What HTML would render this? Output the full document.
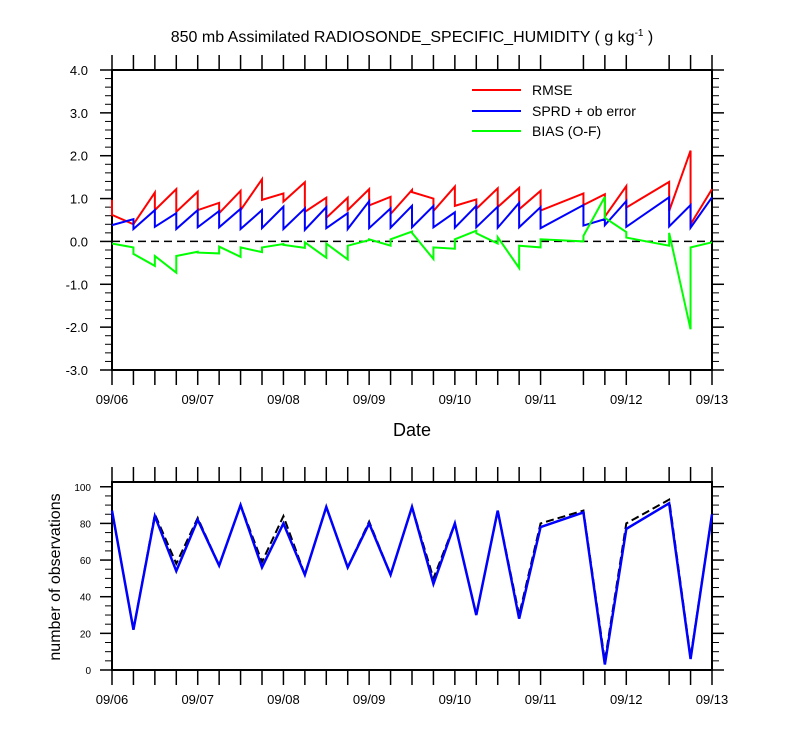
<!DOCTYPE html>
<html><head><meta charset="utf-8"><style>
body{margin:0;background:#fff}
svg text{font-family:"Liberation Sans",sans-serif;fill:#000}
</style></head><body>
<svg id="chart" width="800" height="750" viewBox="0 0 800 750" xmlns="http://www.w3.org/2000/svg">
<text x="412" y="42" font-size="16" text-anchor="middle">850 mb Assimilated RADIOSONDE_SPECIFIC_HUMIDITY ( g kg<tspan dy="-6" font-size="10">-1</tspan><tspan dy="6"> )</tspan></text>
<g id="topPanel"></g>
<g id="botPanel"></g>
<text x="412" y="436" font-size="18" text-anchor="middle">Date</text>
<text transform="translate(60,577) rotate(-90)" font-size="16" text-anchor="middle">number of observations</text>
<g>
<line x1="472" y1="90" x2="521" y2="90" stroke="#f00" stroke-width="2"/>
<text x="532" y="95" font-size="14">RMSE</text>
<line x1="472" y1="111" x2="521" y2="111" stroke="#00f" stroke-width="2"/>
<text x="532" y="116" font-size="14">SPRD + ob error</text>
<line x1="472" y1="131" x2="521" y2="131" stroke="#0f0" stroke-width="2"/>
<text x="532" y="136" font-size="14">BIAS (O-F)</text>
</g>
</svg>
<script>
const times=[0,1,2,3,4,5,6,7,8,9,10,11,12,13,14,15,16,17,18,19,20,21,22,23,24,25,26,27,28];
const dateLabels=["09/06","09/07","09/08","09/09","09/10","09/11","09/12","09/13"];
const yTicksTop=[-3,-2,-1,0,1,2,3,4];
const yTicksBot=[0,20,40,60,80,100];
const rmseA=[0.97,0.40,1.14,1.22,1.16,0.90,1.18,1.45,1.12,1.38,1.02,1.02,1.22,1.04,1.20,1.00,1.28,0.98,1.24,1.25,1.18,null,1.12,1.10,1.29,null,1.39,2.12,1.22];
const rmseB=[0.62,0.40,0.73,0.69,0.73,0.66,0.73,0.97,0.93,0.69,0.55,0.73,0.84,0.64,1.15,0.71,0.83,0.76,0.80,0.75,0.72,null,0.85,0.58,0.79,null,0.71,0.40,1.22];
const sprdA=[0.38,0.52,0.73,0.66,0.73,0.71,0.76,0.73,0.81,0.77,0.80,0.66,0.94,0.77,0.83,0.83,0.68,0.83,0.81,0.90,0.80,null,0.85,0.52,0.94,null,1.03,0.85,1.03];
const sprdB=[0.38,0.29,0.34,0.29,0.33,0.33,0.29,0.31,0.29,0.27,0.31,0.29,0.31,0.32,0.33,0.33,0.32,0.33,0.32,0.33,0.31,null,0.37,0.38,0.34,null,0.35,0.32,1.03];
const biasA=[-0.05,-0.14,-0.57,-0.73,-0.24,-0.28,-0.36,-0.25,-0.06,-0.15,-0.38,-0.42,0.03,-0.10,0.23,-0.41,-0.17,0.25,-0.05,-0.62,-0.14,null,0.00,1.04,0.22,null,-0.10,-2.05,-0.02];
const biasB=[-0.05,-0.29,-0.34,-0.34,-0.26,-0.12,-0.14,-0.14,-0.08,-0.02,-0.05,-0.10,0.05,0.05,0.20,-0.14,0.05,0.19,0.10,-0.10,0.05,null,0.13,0.55,0.09,null,0.20,-0.14,-0.02];
const obsUsed=[87,22,84,54,82,57,90,56,80,52,89,56,80,52,89,47,80,30,87,28,78,null,86,3,77,null,91,6,85];
const obsPossible=[87,22,85,58,83,57,90,59,84,52,89,56,81,52,89,50,80,30,87,30,80,null,87,5,80,null,93,7,85];

const NS='http://www.w3.org/2000/svg';
const X0=112,X1=712;
const xs=t=>X0+(X1-X0)*t/28;
const yT=v=>241.43-v*300/7;
const yB=v=>670-v*188/102.6;
function mk(tag,attrs,parent){const e=document.createElementNS(NS,tag);for(const k in attrs)e.setAttribute(k,attrs[k]);parent.appendChild(e);return e;}
const topG=document.getElementById('topPanel'),botG=document.getElementById('botPanel');

function frame(g,y0,y1){
  const r=mk('rect',{x:X0,y:y0,width:X1-X0,height:y1-y0,fill:'none',stroke:'#000','stroke-width':2},g);
  
  
  times.forEach((t,i)=>{
    if(obsUsed[i]===null)return;
    const x=xs(t);
    const a=mk('line',{x1:x,x2:x,y1:y0-15,y2:y0,stroke:'#000','stroke-width':1.5},g);
    
    
    const b=mk('line',{x1:x,x2:x,y1:y1,y2:y1+15,stroke:'#000','stroke-width':1.5},g);
    
    
  });
  dateLabels.forEach((d,i)=>{
    const tx=mk('text',{x:xs(i*4),y:y1+34,'font-size':13,'text-anchor':'middle'},g);
    tx.textContent=d;
    
    
  });
}
frame(topG,70,370);
frame(botG,482,670);

for(let k=0;k<=35;k++){
  const v=-3+k*0.2;
  const maj=k%5===0, y=yT(v), L=maj?12:7;
  [[X0-L,X0],[X1,X1+L]].forEach(p=>{
    const l=mk('line',{x1:p[0],x2:p[1],y1:y,y2:y,stroke:'#000','stroke-width':maj?1.5:1},topG);
    
    
  });
}
yTicksTop.forEach(v=>{
  const t=mk('text',{x:88,y:yT(v)+5,'font-size':13,'text-anchor':'end'},topG);
  t.textContent=v.toFixed(1);
  
  
});
for(let v=0;v<=100;v+=5){
  const maj=v%20===0,y=yB(v),L=maj?12:7;
  [[X0-L,X0],[X1,X1+L]].forEach(p=>{
    const l=mk('line',{x1:p[0],x2:p[1],y1:y,y2:y,stroke:'#000','stroke-width':maj?1.5:1},botG);
    
    
  });
}
yTicksBot.forEach(v=>{
  const t=mk('text',{x:91,y:yB(v)+4,'font-size':10,'text-anchor':'end'},botG);
  t.textContent=v;
  
  
});

const zl=mk('line',{x1:X0,x2:X1,y1:yT(0),y2:yT(0),stroke:'#000','stroke-width':1.5,'stroke-dasharray':'8,5'},topG);



function saw(A,B,color,name){
  const pts=[];
  times.forEach((t,i)=>{if(A[i]===null)return;pts.push(xs(t)+','+yT(A[i]));pts.push(xs(t)+','+yT(B[i]));});
  const p=mk('polyline',{points:pts.join(' '),fill:'none',stroke:color,'stroke-width':2},topG);
  
  
}
saw(rmseA,rmseB,'#f00','rmse-line');
saw(sprdA,sprdB,'#00f','sprd-line');
saw(biasA,biasB,'#0f0','bias-line');

function obsLine(arr,attrs,name){
  const pts=[];
  times.forEach((t,i)=>{if(arr[i]!==null)pts.push(xs(t)+','+yB(arr[i]));});
  const p=mk('polyline',Object.assign({points:pts.join(' '),fill:'none'},attrs),botG);
  
  
}
obsLine(obsPossible,{stroke:'#000','stroke-width':2,'stroke-dasharray':'8,4'},'obs-possible-line');
obsLine(obsUsed,{stroke:'#00f','stroke-width':2.5},'obs-used-line');
</script>
</body></html>
